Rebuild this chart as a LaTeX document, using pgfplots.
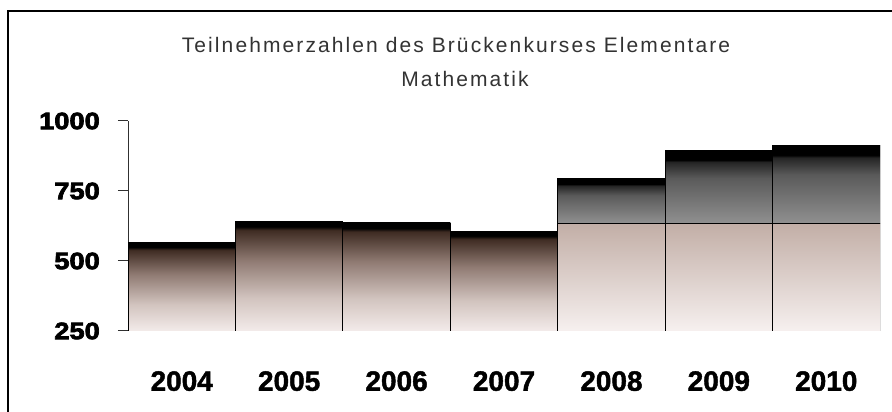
\documentclass[border=0pt]{standalone}
\usepackage{fontspec}
\setmainfont{Liberation Sans}
\newfontfamily\titlefont[LetterSpace=10]{Liberation Sans}
\newfontfamily\ylabfont[FakeStretch=1.15,FakeBold=3]{Liberation Sans Bold}
\newfontfamily\xlabfont[FakeBold=1.5]{Liberation Sans Bold}
\usepackage{pgfplots}
\pgfplotsset{compat=1.18}
\usepackage{pgfplotstable}

\pgfplotstableread{
x n
0 565
1 642
2 636
3 607
}\earlyyears
\pgfplotstableread{
x split n
4 635 795
5 635 895
6 635 914
}\lateyears

\definecolor{axiscol}{HTML}{303030}
\definecolor{bb}{HTML}{F3EBEA}
\definecolor{bm1}{HTML}{D2C4BF}
\definecolor{bm2}{HTML}{907B73}
\definecolor{bt}{HTML}{3E2B22}
\definecolor{lb}{HTML}{F6F0EF}
\definecolor{lt}{HTML}{C2AEA6}
\definecolor{gb}{HTML}{909090}
\definecolor{gm}{HTML}{5A5A5A}
\definecolor{gt}{HTML}{242424}

\pgfdeclareverticalshading{brownbar}{100bp}{color(0bp)=(bb); color(25bp)=(bb); color(40bp)=(bm1); color(57bp)=(bm2); color(71bp)=(bt); color(72.5bp)=(black); color(100bp)=(black)}
\pgfdeclareverticalshading{lightbar}{100bp}{color(0bp)=(lb); color(25bp)=(lb); color(75bp)=(lt); color(100bp)=(lt)}
\pgfdeclareverticalshading{greybar}{100bp}{color(0bp)=(gb); color(25bp)=(gb); color(56bp)=(gm); color(67bp)=(gt); color(68.5bp)=(black); color(100bp)=(black)}

\begin{document}
\begin{tikzpicture}
\useasboundingbox (0,0) rectangle (892pt,412pt);
\fill[white] (0,0) rectangle (892pt,412pt);
\draw[line width=2.2pt, black] (8pt,0pt) -- (8pt,401pt) -- (892pt,401pt);

\node[anchor=base, font=\titlefont\fontsize{21}{24}\selectfont, text=black!80] at (456pt,359pt) {Teilnehmerzahlen des Brückenkurses Elementare};
\node[anchor=base, font=\titlefont\fontsize{21}{24}\selectfont, text=black!80] at (465pt,325pt) {Mathematik};

\pgfplotsset{
  mybase/.style={at={(128pt,81pt)}, anchor=south west, scale only axis,
    width=752pt, height=210pt, xmin=-0.5, xmax=6.5},
  barbase/.style={ybar, bar width=1, bar shift=0pt, draw=black, line width=0.8pt, shade},
}

% upper (dark) parts of 2008-2010: this axis has its zero at the split level
\begin{axis}[mybase, hide axis, ymin=-385, ymax=365]
\addplot[barbase, shading=greybar, restrict x to domain=3.5:4.5]
  table[x=x, y expr=\thisrow{n}-\thisrow{split}] {\lateyears};
\addplot[barbase, shading=greybar, restrict x to domain=4.5:5.5]
  table[x=x, y expr=\thisrow{n}-\thisrow{split}] {\lateyears};
\addplot[barbase, shading=greybar, restrict x to domain=5.5:6.5]
  table[x=x, y expr=\thisrow{n}-\thisrow{split}] {\lateyears};
\end{axis}

\begin{axis}[mybase, ymin=0, ymax=750,
  axis lines*=left,
  axis line style={axiscol, line width=1pt},
  tick align=outside,
  major tick length=10pt,
  ytick={0,250,500,750},
  yticklabels={250,500,750,1000},
  ytick style={axiscol, line width=1pt},
  xtick={0,1,2,3,4,5,6},
  xticklabels={2004,2005,2006,2007,2008,2009,2010},
  xtick style={draw=none},
  yticklabel style={font=\ylabfont\fontsize{23.7}{24}\selectfont, anchor=east, inner sep=0pt, xshift=-18pt},
  xticklabel style={font=\xlabfont\fontsize{28}{28}\selectfont, anchor=north, inner sep=0pt, yshift=-30pt},
]
\addplot[barbase, shading=brownbar, restrict x to domain=-0.5:0.5]
  table[x=x, y expr=\thisrow{n}-250] {\earlyyears};
\addplot[barbase, shading=brownbar, restrict x to domain=0.5:1.5]
  table[x=x, y expr=\thisrow{n}-250] {\earlyyears};
\addplot[barbase, shading=brownbar, restrict x to domain=1.5:2.5]
  table[x=x, y expr=\thisrow{n}-250] {\earlyyears};
\addplot[barbase, shading=brownbar, restrict x to domain=2.5:3.5]
  table[x=x, y expr=\thisrow{n}-250] {\earlyyears};
\addplot[barbase, shading=lightbar, restrict x to domain=3.5:4.5]
  table[x=x, y expr=\thisrow{split}-250] {\lateyears};
\addplot[barbase, shading=lightbar, restrict x to domain=4.5:5.5]
  table[x=x, y expr=\thisrow{split}-250] {\lateyears};
\addplot[barbase, shading=lightbar, restrict x to domain=5.5:6.5]
  table[x=x, y expr=\thisrow{split}-250] {\lateyears};
\end{axis}
\end{tikzpicture}
\end{document}
